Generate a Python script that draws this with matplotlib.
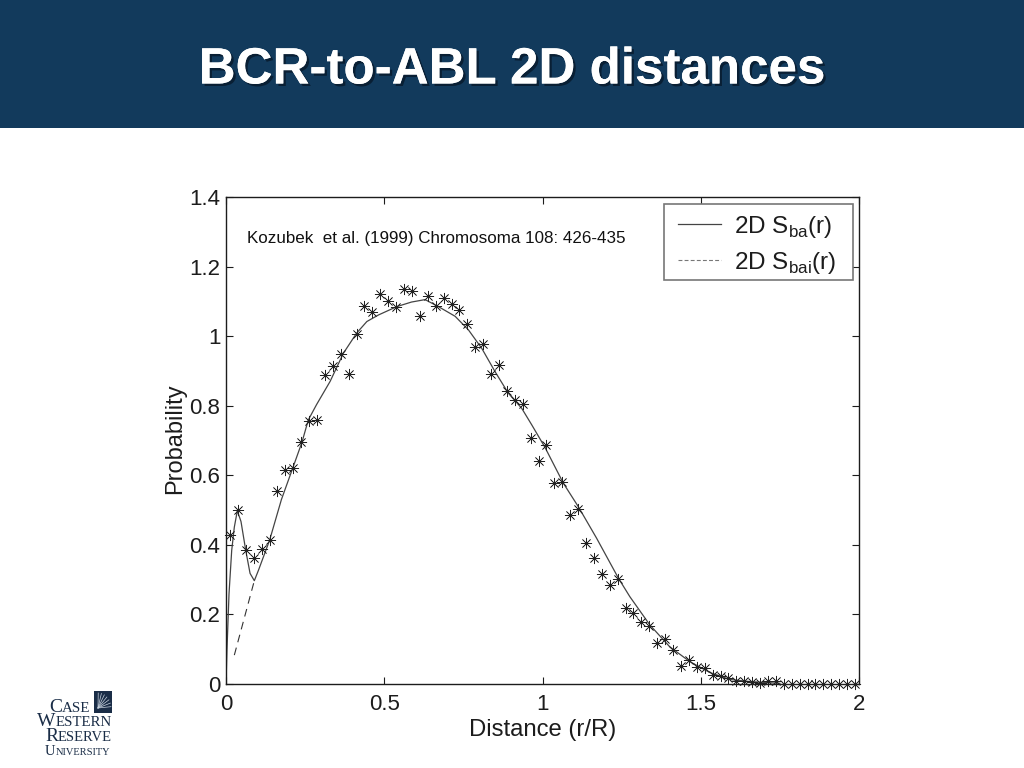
# BCR-to-ABL 2D distances slide

import numpy as np
import matplotlib
matplotlib.use("Agg")
import matplotlib.pyplot as plt
import matplotlib.patheffects as pe
from matplotlib.patches import Rectangle
from matplotlib.lines import Line2D

WIDTH, HEIGHT = 1024, 768
BAND = "#123A5C"
INK = "#1c1c1c"

plt.rcParams["font.family"] = ["Liberation Sans", "DejaVu Sans"]
plt.rcParams["mathtext.fontset"] = "custom"
plt.rcParams["mathtext.rm"] = "Liberation Sans"

# measured points, one every 0.025 starting at 0.0125
point_y = [0.429, 0.499, 0.384, 0.361, 0.389, 0.414, 0.554, 0.615, 0.620, 0.695,
           0.757, 0.759, 0.889, 0.914, 0.950, 0.891, 1.006, 1.087, 1.069, 1.122,
           1.100, 1.085, 1.136, 1.130, 1.057, 1.114, 1.088, 1.109, 1.091, 1.076,
           1.035, 0.969, 0.977, 0.891, 0.918, 0.842, 0.817, 0.806, 0.707, 0.641,
           0.687, 0.577, 0.580, 0.486, 0.504, 0.405, 0.362, 0.317, 0.284, 0.302,
           0.219, 0.204, 0.178, 0.167, 0.118, 0.128, 0.099, 0.052, 0.068, 0.049,
           0.045, 0.026, 0.022, 0.016, 0.010, 0.010, 0.007, 0.003, 0.009, 0.009,
           0.000, 0.000, 0.000, 0.000, 0.000, 0.000, 0.000, 0.000, 0.000, 0.000]
point_x = 0.0125 + 0.025 * np.arange(len(point_y))

# solid curve S_ba(r)
sba_x = [0.000, 0.003, 0.0095, 0.018, 0.0263, 0.0358, 0.0474, 0.0622, 0.076, 0.0895,
         0.103, 0.138, 0.175, 0.211, 0.240, 0.260, 0.286, 0.329, 0.371,
         0.413, 0.445, 0.482, 0.540, 0.586, 0.629, 0.671, 0.724, 0.766, 0.808,
         0.850, 0.892, 0.934, 0.966, 1.008, 1.066, 1.113, 1.171, 1.240, 1.276,
         1.339, 1.402, 1.466, 1.529, 1.592, 1.655, 1.750]
sba_y = [0.000, 0.096, 0.259, 0.384, 0.451, 0.498, 0.467, 0.385, 0.318, 0.297,
         0.328, 0.414, 0.530, 0.621, 0.695, 0.759, 0.803, 0.870, 0.951,
         1.009, 1.042, 1.061, 1.085, 1.098, 1.105, 1.085, 1.057, 1.018, 0.965,
         0.898, 0.836, 0.793, 0.745, 0.680, 0.577, 0.510, 0.419, 0.304, 0.251,
         0.170, 0.107, 0.064, 0.033, 0.013, 0.007, 0.002]

# dashed curve S_bai(r), only visible below the bump
sbai_x = [0.0263, 0.0895]
sbai_y = [0.083, 0.297]

x_ticks = [0, 0.5, 1, 1.5, 2]
x_labels = ["0", "0.5", "1", "1.5", "2"]
y_ticks = [0, 0.2, 0.4, 0.6, 0.8, 1, 1.2, 1.4]
y_labels = ["0", "0.2", "0.4", "0.6", "0.8", "1", "1.2", "1.4"]

fig = plt.figure(figsize=(WIDTH / 100, HEIGHT / 100), dpi=100, facecolor="white")


def fx(px):
    return px / WIDTH


def fy(py):
    return 1 - py / HEIGHT


# header band and title
fig.add_artist(Rectangle((0, fy(128)), 1, 128 / HEIGHT, transform=fig.transFigure,
                         facecolor=BAND, edgecolor="none"))
fig.text(fx(512), fy(70), "BCR-to-ABL 2D distances", color="white", fontsize=36.8,
         fontweight="bold", ha="center", va="center",
         path_effects=[pe.withSimplePatchShadow(offset=(1.8, -1.8), shadow_rgbFace="#07192b",
                                                alpha=0.8), pe.Normal()])

# chart
ax = fig.add_axes([fx(226), fy(684), 633 / WIDTH, 487 / HEIGHT])
ax.plot(sbai_x, sbai_y, color="#333333", lw=0.8, ls=(0, (7, 5)))
ax.plot(sba_x, sba_y, color="#444444", lw=0.9, label="2D S$_{\\mathrm{ba}}$(r)")
ax.plot([], [], color="#777777", lw=0.8, ls=(0, (3.5, 2)), label="2D S$_{\\mathrm{bai}}$(r)")
ax.plot(point_x, point_y, ls="none", marker=(8, 2, 0), ms=8, mew=0.5, color="#222222",
        clip_on=False, zorder=3)

ax.set_xlim(0, 2)
ax.set_ylim(0, 1.4)
ax.set_xticks(x_ticks, x_labels)
ax.set_yticks(y_ticks, y_labels)
ax.tick_params(direction="in", length=5, width=0.8, top=True, right=True,
               labelsize=16, colors=INK)
ax.tick_params(axis="x", pad=7.5)
ax.tick_params(axis="y", pad=4)
for spine in ax.spines.values():
    spine.set_linewidth(1.0)
    spine.set_color(INK)

fig.text(fx(543), fy(730), "Distance (r/R)", fontsize=17.2, color=INK, ha="center", va="center")
fig.text(fx(175), fy(439), "Probability", fontsize=17, color=INK, ha="center", va="center",
         rotation=90)
fig.text(fx(247), fy(238), "Kozubek  et al. (1999) Chromosoma 108: 426-435", fontsize=12.25,
         color="#111111", ha="left", va="center")

# legend box is drawn apart so its padding can differ per side
ax.add_patch(Rectangle((fx(664), fy(280)), 189 / WIDTH, 76 / HEIGHT, transform=fig.transFigure,
                       facecolor="white", edgecolor="#777777", linewidth=1.2, zorder=4))
ax.legend(loc="upper left", bbox_to_anchor=((678 - 226) / 633, (684 - 214) / 487),
          borderaxespad=0, borderpad=0, fontsize=17.5, frameon=False, handlelength=1.75,
          handletextpad=0.55, labelspacing=0.4, labelcolor=INK)

# university logo
NAVY = "#1A2D47"
fig.add_artist(Rectangle((fx(94), fy(713)), 18 / WIDTH, 22 / HEIGHT, transform=fig.transFigure,
                         facecolor=NAVY, edgecolor="none"))
for angle in np.arange(5, 90, 14):
    rad = np.deg2rad(angle)
    fig.add_artist(Line2D([fx(98), fx(98 + 13 * np.cos(rad))],
                          [fy(708), fy(708 - 15 * np.sin(rad))],
                          transform=fig.transFigure, color="#C8D2DE", lw=0.5))

logo_words = [("C", "ASE", 49, 712, 14, 10.8),
              ("W", "ESTERN", 37, 726, 14, 10.7),
              ("R", "ESERVE", 45, 741, 14, 10.5),
              ("U", "NIVERSITY", 45, 755, 10.5, 7.5)]
for first, rest, px, py, big, small in logo_words:
    t = fig.text(fx(px), fy(py), first, family="Liberation Serif", fontsize=big,
                 color=NAVY, ha="left", va="baseline")
    box = t.get_window_extent(fig.canvas.get_renderer())
    fig.text(box.x1 / WIDTH, fy(py), rest, family="Liberation Serif", fontsize=small,
             color=NAVY, ha="left", va="baseline")

fig.savefig("out.png", dpi=100)
